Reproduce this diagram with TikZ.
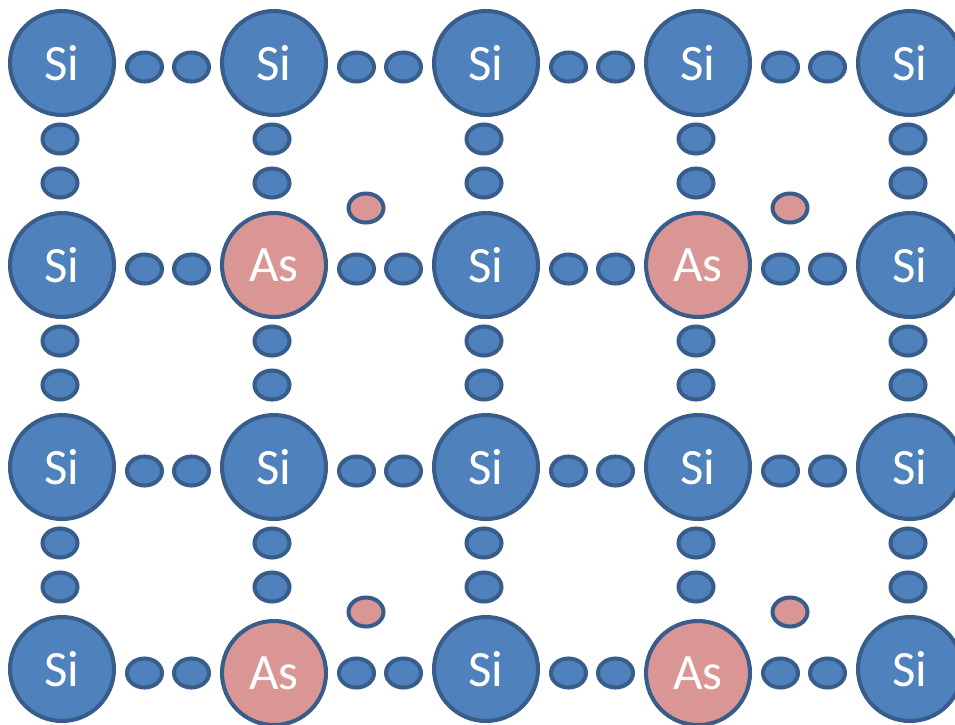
\documentclass[tikz,border=0pt]{standalone}
\usepackage{fontspec}
\setmainfont{Carlito}
\usetikzlibrary{shapes.geometric}

\definecolor{siblue}{HTML}{4F81BD}
\definecolor{asred}{HTML}{D99694}
\definecolor{rim}{HTML}{385D8A}

\tikzset{
  atom/.style={circle, draw=rim, line width=2.3pt, minimum size=2.08cm, inner sep=0pt,
    text=white, font=\fontsize{29}{29}\selectfont},
  si/.style={atom, fill=siblue},
  as/.style={atom, fill=asred},
  elec/.style={ellipse, draw=rim, line width=2.3pt, fill=siblue,
    minimum width=0.7cm, minimum height=0.58cm, inner sep=0pt},
  extra/.style={elec, fill=asred}
}

\begin{document}
\begin{tikzpicture}[x=0.02cm, y=-0.02cm]

\useasboundingbox (0,0) rectangle (955,724);

% bond electrons, horizontal
\foreach \c in {0,...,3}
  \foreach \r in {0,...,3}{
    \node[elec] (h-\c-\r-a) at ({144.5+212*\c},{67+202*\r}) {};
    \node[elec] (h-\c-\r-b) at ({191.5+212*\c},{67+202*\r}) {};
  }

% bond electrons, vertical
\foreach \c in {0,...,4}
  \foreach \r in {0,...,2}{
    \node[elec] (v-\c-\r-a) at ({60+212*\c},{139+202*\r}) {};
    \node[elec] (v-\c-\r-b) at ({60+212*\c},{183+202*\r}) {};
  }

% lattice
\foreach \c in {0,...,4}
  \foreach \r in {0,...,3}{
    \def\kind{si}\def\lbl{Si}\def\dy{0}
    \ifodd\c \ifodd\r \def\kind{as}\def\lbl{As}\ifnum\r=3 \def\dy{4}\fi\fi\fi
    \node[\kind] (a-\c-\r) at ({62+212*\c},{63+\dy+202*\r}) {\lbl};
  }

% fifth electron of each As
\foreach \c/\r in {1/1,3/1,1/3,3/3}
  \node[extra] (x-\c-\r) at ({154+212*\c},{6+202*\r}) {};

\end{tikzpicture}
\end{document}
